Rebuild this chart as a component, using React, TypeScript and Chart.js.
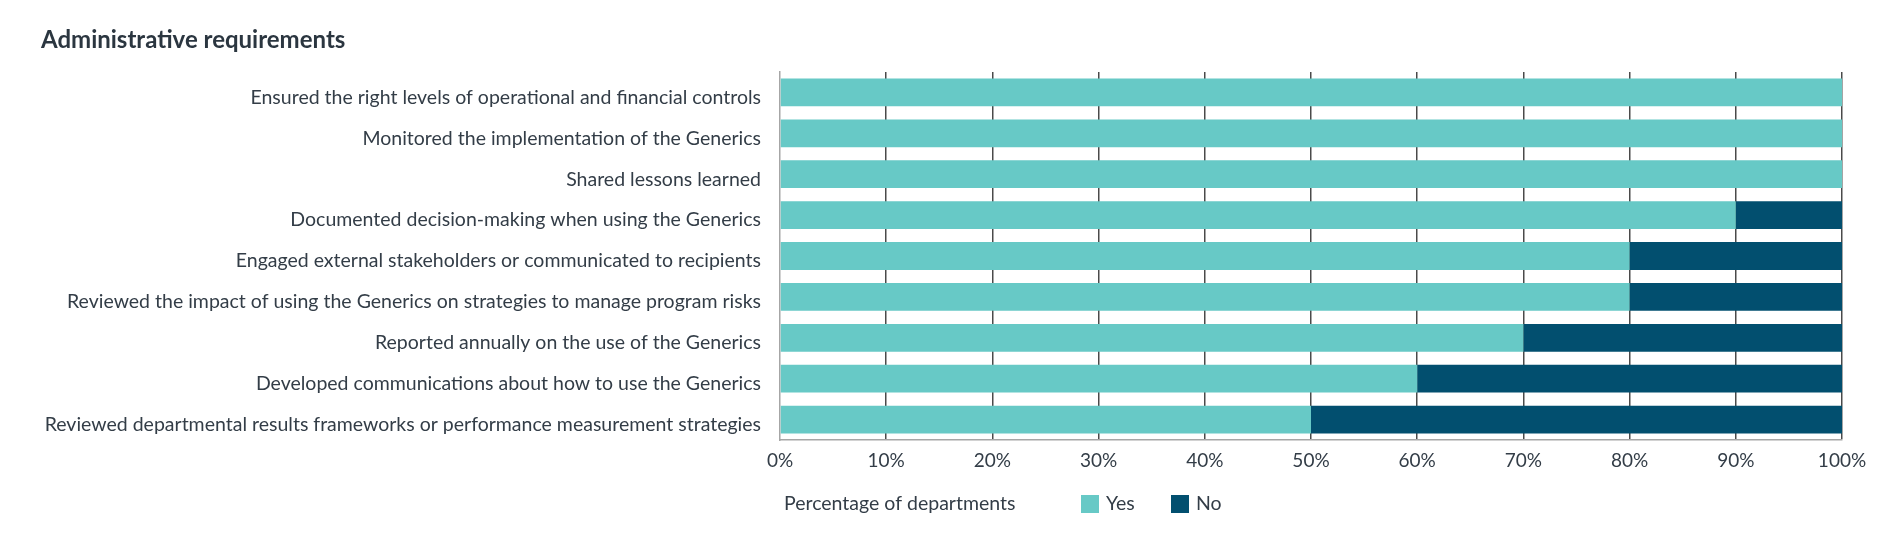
import React, { useEffect, useRef } from "react";
import { Chart, registerables } from "chart.js";

Chart.register(...registerables);

const categories = [
  "Ensured the right levels of operational and financial controls",
  "Monitored the implementation of the Generics",
  "Shared lessons learned",
  "Documented decision-making when using the Generics",
  "Engaged external stakeholders or communicated to recipients",
  "Reviewed the impact of using the Generics on strategies to manage program risks",
  "Reported annually on the use of the Generics",
  "Developed communications about how to use the Generics",
  "Reviewed departmental results frameworks or performance measurement strategies",
];
const yesValues = [100, 100, 100, 90, 80, 80, 70, 60, 50];
const noValues = [0, 0, 0, 10, 20, 20, 30, 40, 50];
const seriesLabels = ["Yes", "No"];
const titleText = "Administrative requirements";
const legendTitle = "Percentage of departments";

const YES_COLOR = "#67C9C6";
const NO_COLOR = "#024F6F";
const TEXT_COLOR = "#333d47";
const FONT = "Lato, 'Open Sans', sans-serif";

const legendPlugin = {
  id: "customLegend",
  afterDraw(chart: any) {
    const ctx = chart.ctx;
    const left = chart.chartArea.left;
    const y = 496;
    ctx.save();
    ctx.font = `19.5px ${FONT}`;
    ctx.fillStyle = TEXT_COLOR;
    ctx.textBaseline = "middle";
    ctx.textAlign = "left";
    ctx.fillText(legendTitle, left + 4, y);
    const offsets = [301, 391];
    chart.data.datasets.forEach((ds: any, i: number) => {
      const bx = left + offsets[i];
      ctx.fillStyle = ds.backgroundColor;
      ctx.fillRect(bx, y - 9, 18, 18);
      ctx.fillStyle = TEXT_COLOR;
      ctx.fillText(ds.label, bx + 25, y);
    });
    ctx.restore();
  },
};

export default function App() {
  const ref = useRef<HTMLCanvasElement | null>(null);
  useEffect(() => {
    if (!ref.current) return;
    const chart = new Chart(ref.current, {
      type: "bar",
      data: {
        labels: categories,
        datasets: [
          {
            label: seriesLabels[0],
            data: yesValues,
            backgroundColor: YES_COLOR,
            barPercentage: 0.68,
            categoryPercentage: 1,
          },
          {
            label: seriesLabels[1],
            data: noValues,
            backgroundColor: NO_COLOR,
            barPercentage: 0.68,
            categoryPercentage: 1,
          },
        ],
      },
      options: {
        indexAxis: "y",
        animation: false,
        responsive: true,
        maintainAspectRatio: false,
        layout: { padding: { left: 33, right: 38, top: 0, bottom: 57 } },
        plugins: {
          legend: { display: false },
          tooltip: { enabled: false },
          title: {
            display: true,
            text: titleText,
            align: "start",
            color: "#2b3640",
            font: { family: FONT, size: 24, weight: "bold" },
            padding: { top: 18, bottom: 17.2 },
          },
        },
        scales: {
          x: {
            stacked: true,
            min: 0,
            max: 100,
            afterFit: (s: any) => {
              s.height = 40;
            },
            ticks: {
              stepSize: 10,
              padding: 9,
              color: TEXT_COLOR,
              font: { family: FONT, size: 19 },
              callback: (v: any) => v + "%",
            },
            grid: {
              drawTicks: false,
              color: (c: any) => (c.index === 0 ? "rgba(0,0,0,0)" : "#4a4a4a"),
              lineWidth: 1.5,
            },
            border: { display: true, color: "#a6a6a6", width: 1.5 },
          },
          y: {
            stacked: true,
            afterFit: (s: any) => {
              s.width = 739;
            },
            ticks: {
              padding: 19,
              labelOffset: 5,
              color: TEXT_COLOR,
              font: { family: FONT, size: 19.5 },
            },
            grid: { display: false, drawTicks: false },
            border: { display: true, color: "#a6a6a6", width: 1.5 },
          },
        },
      },
      plugins: [legendPlugin],
    });
    return () => chart.destroy();
  }, []);
  return (
    <div style={{ width: 1872, height: 529, position: "relative" }}>
      <canvas ref={ref} />
    </div>
  );
}
